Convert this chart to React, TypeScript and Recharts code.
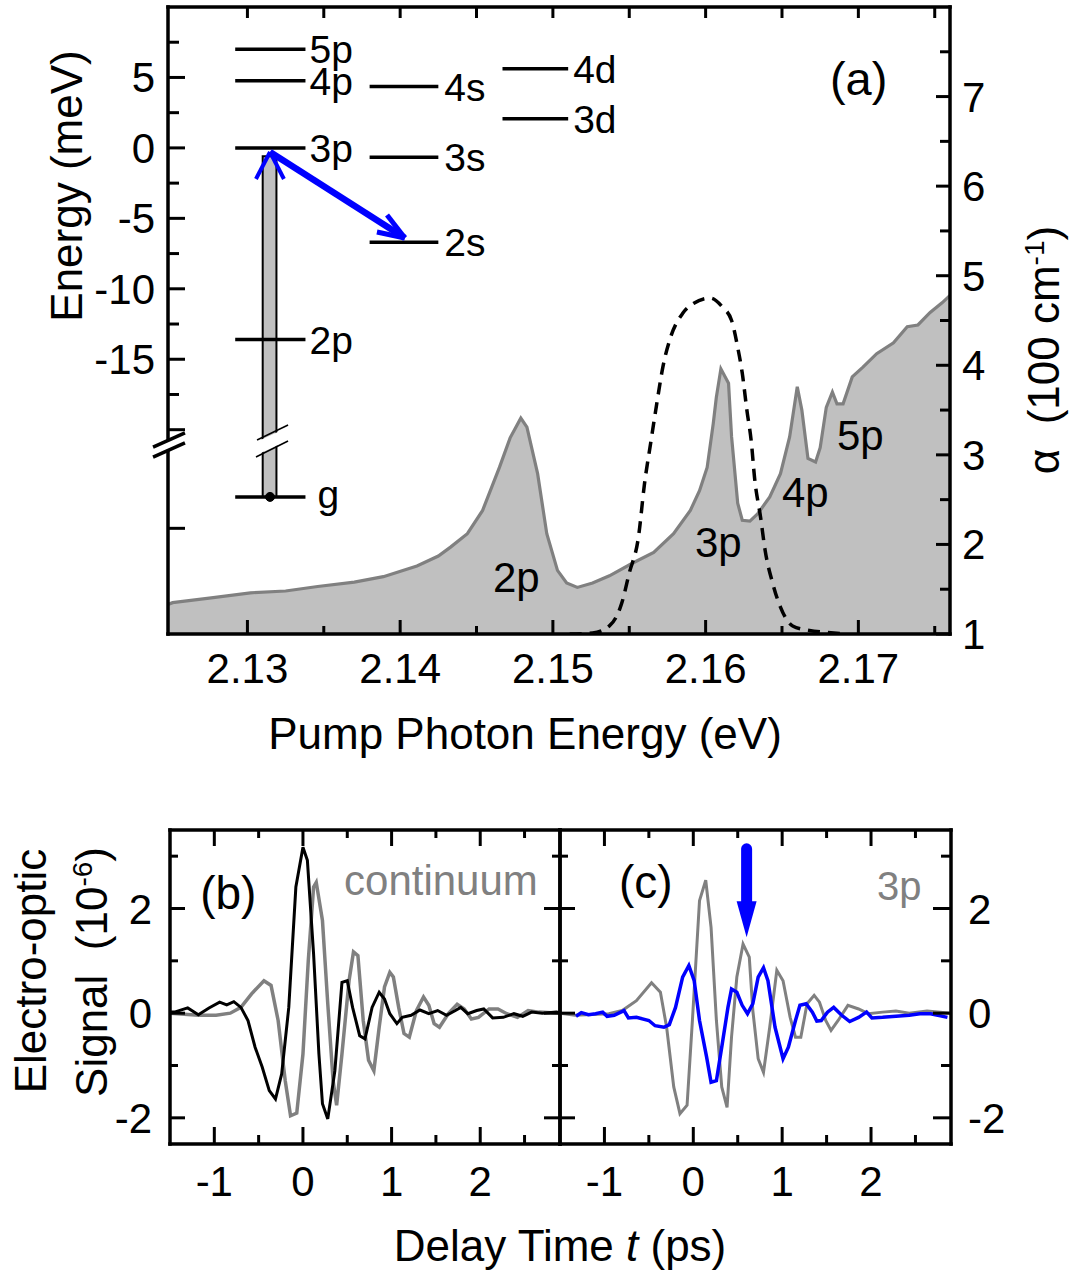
import React from 'react';
import {
  ComposedChart,
  LineChart,
  Line,
  Area,
  XAxis,
  YAxis,
  ReferenceLine,
  ReferenceDot,
  ReferenceArea,
} from 'recharts';

const FF = '"Liberation Sans", Arial, Helvetica, sans-serif';

// ---------------- Panel (a): absorption spectrum ----------------
const absEnergy = [
  2.1248, 2.1251, 2.1275, 2.1302, 2.1325, 2.1346, 2.137, 2.1389, 2.1411, 2.1425,
  2.1433, 2.1444, 2.1454, 2.1465, 2.1472, 2.1479, 2.1483, 2.149, 2.1496, 2.1503,
  2.1509, 2.1516, 2.1526, 2.1537, 2.1552, 2.1566, 2.1579, 2.159, 2.1596, 2.1601,
  2.1605, 2.1607, 2.161, 2.1615, 2.1617, 2.1621, 2.1624, 2.1629, 2.1634, 2.1642,
  2.1649, 2.1655, 2.166, 2.1663, 2.1667, 2.1672, 2.1675, 2.1679, 2.1683, 2.1686,
  2.169, 2.1696, 2.1703, 2.1712, 2.1723, 2.1732, 2.1739, 2.1747, 2.1755, 2.176,
];
const absAlpha = [
  1.33, 1.35, 1.4, 1.46, 1.48, 1.53, 1.58, 1.64, 1.76, 1.87,
  1.97, 2.12, 2.38, 2.86, 3.19, 3.41, 3.31, 2.79, 2.12, 1.71,
  1.57, 1.52, 1.57, 1.65, 1.79, 1.91, 2.12, 2.38, 2.6, 2.86,
  3.35, 3.64, 3.96, 3.8, 3.2, 2.46, 2.27, 2.26, 2.34, 2.53,
  2.79, 3.2, 3.76, 3.5, 2.96, 2.92, 3.08, 3.53, 3.7, 3.57,
  3.57, 3.87, 3.98, 4.13, 4.25, 4.43, 4.45, 4.59, 4.7, 4.78,
];

// pump laser spectrum (dashed), plotted on the alpha scale
const pumpEnergy = [
  2.1511, 2.1526, 2.1537, 2.1545, 2.155, 2.1556, 2.156, 2.1564, 2.1568, 2.1572,
  2.1577, 2.1585, 2.1592, 2.1603, 2.1611, 2.1617, 2.1621, 2.1624, 2.1627, 2.163,
  2.1632, 2.1636, 2.1639, 2.1644, 2.1649, 2.1657, 2.1668, 2.1679, 2.1691,
];
const pumpAlpha = [
  1.0, 1.01, 1.09, 1.34, 1.68, 2.08, 2.68, 3.13, 3.57, 3.98,
  4.31, 4.58, 4.69, 4.75, 4.65, 4.5, 4.2, 3.91, 3.5, 3.13,
  2.75, 2.3, 1.93, 1.56, 1.3, 1.09, 1.04, 1.02, 1.0,
];

const eVTicks = [2.13, 2.135, 2.14, 2.145, 2.15, 2.155, 2.16, 2.165, 2.17, 2.175];
const eVMajor = [2.13, 2.14, 2.15, 2.16, 2.17];
const energyTicks = [7.5, 5, 2.5, 0, -2.5, -5, -7.5, -10, -12.5, -15, -17.5, -20, -27];
const energyMajor = [5, 0, -5, -10, -15, -20, -27];
const energyLabeled = [5, 0, -5, -10, -15];
const alphaTicks = [1, 1.5, 2, 2.5, 3, 3.5, 4, 4.5, 5, 5.5, 6, 6.5, 7, 7.5];
const alphaMajor = [1, 2, 3, 4, 5, 6, 7];

// energy-level diagram (meV, broken scale below -20)
const levelNames = ['5p', '4p', '3p', '2p', 'g', '4s', '3s', '2s', '4d', '3d'];
const levelEnergy = [7.0, 4.76, 0, -13.6, -24.77, 4.35, -0.66, -6.69, 5.61, 2.06];
const levelColumn = [0, 0, 0, 0, 0, 1, 1, 1, 2, 2];
const columnFrom = [2.1292, 2.138, 2.1467];
const columnTo = [2.1338, 2.1425, 2.151];

// pump bar (g -> 3p) and relaxation arrow 3p -> 2s
const barEnergyFrom = 2.131;
const barEnergyTo = 2.1319;
const barBottom = -24.77;
const barTop = -0.6;
const barCenter = 2.13148;
const pumpHeadX = [2.13056, 2.13148, 2.13239];
const pumpHeadY = [-2.21, -0.29, -2.21];
const relaxFrom = { x: 2.13148, y: -0.29 };
const relaxTo = { x: 2.14031, y: -6.39 };
const relaxArmX = [2.13848, 2.13914];
const relaxArmY = [-5.97, -4.76];

// peak labels inside the spectrum
const peakNames = ['2p', '3p', '4p', '5p'];
const peakLabelEnergy = [2.14608, 2.1593, 2.165, 2.1686];
const peakLabelAlpha = [1.47, 1.86, 2.42, 3.05];

// ---------------- Panels (b), (c): transients ----------------
const tTicks = [-1, -0.5, 0, 0.5, 1, 1.5, 2, 2.5];
const tMajor = [-1, 0, 1, 2];
const sTicks = [-2, -1, 0, 1, 2, 3];
const sMajor = [-2, 0, 2];

const blackBTime = [
  -1.5, -1.45, -1.3, -1.18, -1.06, -0.94, -0.86, -0.78, -0.7, -0.62,
  -0.54, -0.46, -0.38, -0.31, -0.24, -0.16, -0.08, 0.0, 0.05, 0.12,
  0.18, 0.22, 0.28, 0.36, 0.44, 0.5, 0.56, 0.64, 0.7, 0.78,
  0.86, 0.92, 0.98, 1.06, 1.12, 1.22, 1.32, 1.42, 1.52, 1.62,
  1.72, 1.78, 1.86, 1.96, 2.04, 2.14, 2.26, 2.38, 2.48, 2.58,
  2.7, 2.86, 2.9,
];
const blackBSignal = [
  0.02, 0.02, 0.1, -0.03, 0.1, 0.21, 0.16, 0.22, 0.11, -0.14,
  -0.65, -1.03, -1.48, -1.64, -1.16, 0.11, 2.41, 3.17, 2.92, 1.13,
  -0.78, -1.73, -2.02, -1.1, 0.59, 0.62, 0.11, -0.43, -0.49, 0.11,
  0.4, 0.27, -0.01, -0.2, -0.08, -0.04, 0.06, -0.01, 0.05, -0.04,
  0.05, 0.11, -0.01, 0.05, 0.08, -0.09, -0.08, -0.01, -0.06, 0.02,
  0.0, 0.02, 0.01,
];

const contBTime = [
  -1.5, -1.18, -0.98, -0.82, -0.7, -0.58, -0.44, -0.36, -0.28, -0.2,
  -0.14, -0.07, 0.0, 0.06, 0.12, 0.15, 0.22, 0.28, 0.34, 0.38,
  0.44, 0.52, 0.57, 0.62, 0.68, 0.74, 0.8, 0.86, 0.92, 0.98,
  1.02, 1.08, 1.14, 1.2, 1.28, 1.36, 1.42, 1.48, 1.54, 1.64,
  1.74, 1.82, 1.9, 1.98, 2.1, 2.2, 2.3, 2.42, 2.54, 2.66, 2.9,
];
const contBSignal = [
  0.0, -0.04, -0.04, 0.0, 0.11, 0.37, 0.62, 0.53, -0.14, -1.29,
  -1.96, -1.91, -0.78, 1.0, 2.41, 2.5, 1.77, 0.18, -1.29, -1.76,
  -0.78, 0.62, 1.17, 1.1, -0.14, -0.9, -1.1, -0.27, 0.5, 0.78,
  0.69, 0.11, -0.39, -0.46, 0.05, 0.31, 0.15, -0.2, -0.27, -0.01,
  0.17, 0.08, -0.11, -0.08, 0.08, 0.08, -0.01, -0.08, 0.05, 0.02, 0.0,
];

const grayCTime = [
  -1.5, -1.33, -0.95, -0.8, -0.64, -0.47, -0.37, -0.3, -0.22, -0.15,
  -0.07, -0.01, 0.07, 0.14, 0.2, 0.26, 0.32, 0.38, 0.43, 0.49,
  0.56, 0.63, 0.67, 0.73, 0.79, 0.86, 0.94, 1.01, 1.09, 1.15,
  1.21, 1.28, 1.36, 1.42, 1.49, 1.55, 1.63, 1.74, 1.86, 1.97,
  2.13, 2.28, 2.43, 2.63, 2.9,
];
const grayCSignal = [
  0.0, -0.04, -0.01, 0.05, 0.24, 0.58, 0.4, -0.27, -1.41, -1.92,
  -1.76, -0.14, 2.15, 2.54, 1.64, -0.14, -1.41, -1.8, -0.46, 0.69,
  1.32, 1.07, 0.05, -0.87, -1.13, -0.27, 0.82, 0.62, -0.08, -0.46,
  -0.46, 0.18, 0.34, 0.21, -0.14, -0.33, -0.14, 0.15, 0.08, -0.01,
  0.02, 0.04, 0.0, 0.04, 0.0,
];

const blueCTime = [
  -1.32, -1.26, -1.18, -1.1, -1.02, -0.97, -0.89, -0.78, -0.73, -0.64,
  -0.5, -0.43, -0.33, -0.27, -0.2, -0.12, -0.05, 0.01, 0.07, 0.15,
  0.2, 0.26, 0.32, 0.39, 0.43, 0.49, 0.55, 0.61, 0.67, 0.73,
  0.79, 0.84, 0.92, 1.01, 1.07, 1.15, 1.2, 1.27, 1.34, 1.39,
  1.44, 1.51, 1.58, 1.67, 1.76, 1.86, 1.95, 2.01, 2.13, 2.28,
  2.43, 2.55, 2.67, 2.86,
];
const blueCSignal = [
  -0.06, 0.01, -0.03, -0.01, 0.02, -0.06, -0.04, 0.05, -0.09, -0.08,
  -0.14, -0.24, -0.27, -0.22, 0.11, 0.69, 0.91, 0.62, -0.14, -0.84,
  -1.32, -1.29, -0.65, 0.11, 0.46, 0.4, 0.15, -0.01, 0.18, 0.69,
  0.87, 0.62, -0.27, -0.87, -0.65, -0.14, 0.15, 0.18, 0.02, -0.15,
  -0.14, 0.02, 0.11, -0.04, -0.16, -0.08, 0.02, -0.09, -0.08, -0.06,
  -0.04, -0.01, -0.01, -0.08,
];

const arrowCTime = 0.6;
const arrowCTop = 3.14;
const arrowCTip = 1.45;

const zip = (xs: number[], ys: number[]) => xs.map((x, i) => ({ x, y: ys[i] }));
const absData = zip(absEnergy, absAlpha);
const pumpData = zip(pumpEnergy, pumpAlpha);
const blackB = zip(blackBTime, blackBSignal);
const contB = zip(contBTime, contBSignal);
const grayC = zip(grayCTime, grayCSignal);
const blueC = zip(blueCTime, blueCSignal);

// ---------------- helpers ----------------
const AX = { stroke: '#000', strokeWidth: 3.5, strokeLinecap: 'square' as const };

function AxisTick(p: any) {
  const {
    x, y, payload, side, majors, labels, majorLen, minorLen, labelGap, fmt,
    plotH, topMajorLen, topMinorLen,
  } = p;
  const v = Number(payload && payload.value);
  const has = (arr?: number[]) => !!arr && arr.some((m) => Math.abs(m - v) < 1e-6);
  const major = has(majors);
  const len = major ? majorLen : minorLen;
  const text = fmt ? fmt(v) : String(v);
  const fs = 42;
  const tp = { fontSize: fs, fontFamily: FF, fill: '#000' };
  let line: React.ReactNode = null;
  let mirror: React.ReactNode = null;
  let label: React.ReactNode = null;
  if (side === 'bottom') {
    line = <line x1={x} y1={y} x2={x} y2={y - len} stroke="#000" strokeWidth={3} />;
    if (plotH) {
      const tl = major ? topMajorLen : topMinorLen;
      mirror = <line x1={x} y1={y - plotH} x2={x} y2={y - plotH + tl} stroke="#000" strokeWidth={3} />;
    }
    if (has(labels))
      label = (
        <text x={x} y={y + labelGap} textAnchor="middle" {...tp}>
          {text}
        </text>
      );
  } else if (side === 'left') {
    line = <line x1={x} y1={y} x2={x + len} y2={y} stroke="#000" strokeWidth={3} />;
    if (has(labels))
      label = (
        <text x={x - labelGap} y={y + 15} textAnchor="end" {...tp}>
          {text}
        </text>
      );
  } else {
    line = <line x1={x} y1={y} x2={x - len} y2={y} stroke="#000" strokeWidth={3} />;
    if (has(labels))
      label = (
        <text x={x + labelGap} y={y + 15} textAnchor="start" {...tp}>
          {text}
        </text>
      );
  }
  return (
    <g>
      {line}
      {mirror}
      {label}
    </g>
  );
}

const textAt =
  (s: string, o: { dx?: number; dy?: number; size?: number; color?: string; anchor?: string }) =>
  (p: any) => {
    const vb = (p && p.viewBox) || {};
    return (
      <text
        x={(vb.x ?? 0) + (o.dx ?? 0)}
        y={(vb.y ?? 0) + (o.dy ?? 0)}
        fontSize={o.size ?? 42}
        fontFamily={FF}
        fill={o.color ?? '#000'}
        textAnchor={(o.anchor ?? 'start') as any}
      >
        {s}
      </text>
    );
  };

const pumpTitle = () => (
  <text x={525} y={749} textAnchor="middle" fontSize={44} fontFamily={FF} fill="#000">
    Pump Photon Energy (eV)
  </text>
);
const energyTitle = () => (
  <text
    x={82}
    y={186}
    transform="rotate(-90 82 186)"
    textAnchor="middle"
    fontSize={44}
    fontFamily={FF}
    fill="#000"
  >
    Energy (meV)
  </text>
);
const alphaTitle = () => (
  <text
    x={1059}
    y={350}
    transform="rotate(-90 1059 350)"
    textAnchor="middle"
    fontSize={44}
    fontFamily={FF}
    fill="#000"
    style={{ whiteSpace: 'pre' }}
  >
    {'\u03b1  (100 cm'}
    <tspan dy={-15} fontSize={28}>
      -1
    </tspan>
    <tspan dy={15}>)</tspan>
  </text>
);
const eoTitle = () => (
  <g>
    <text
      x={46}
      y={191}
      transform="rotate(-90 46 191)"
      textAnchor="middle"
      fontSize={44}
      fontFamily={FF}
      fill="#000"
    >
      Electro-optic
    </text>
    <text
      x={107}
      y={192}
      transform="rotate(-90 107 192)"
      textAnchor="middle"
      fontSize={44}
      fontFamily={FF}
      fill="#000"
      style={{ whiteSpace: 'pre' }}
    >
      {'Signal  (10'}
      <tspan dy={-15} fontSize={28}>
        -6
      </tspan>
      <tspan dy={15}>)</tspan>
    </text>
  </g>
);
const delayTitle = () => (
  <text x={560} y={481} textAnchor="middle" fontSize={44} fontFamily={FF} fill="#000">
    Delay Time <tspan fontStyle="italic">t</tspan> (ps)
  </text>
);

const common = {
  type: 'number' as const,
  interval: 0 as const,
  tickLine: false,
  tickSize: 0,
  tickMargin: 0,
  axisLine: AX,
  allowDataOverflow: true,
};

function PanelA() {
  return (
    <ComposedChart width={1078} height={780} margin={{ top: 6, right: 0, bottom: 0, left: 0 }}>
      <XAxis
        {...common}
        dataKey="x"
        domain={[2.1248, 2.176]}
        ticks={eVTicks}
        height={146}
        tick={
          <AxisTick
            side="bottom"
            majors={eVMajor}
            labels={eVMajor}
            majorLen={14}
            minorLen={8}
            labelGap={49}
            plotH={627}
            topMajorLen={11}
            topMinorLen={11}
            fmt={(v: number) => v.toFixed(2)}
          />
        }
        label={pumpTitle}
      />
      <XAxis
        {...common}
        xAxisId="top"
        orientation="top"
        dataKey="x"
        domain={[2.1248, 2.176]}
        ticks={eVTicks}
        height={1}
        tick={false}
      />
      <YAxis
        {...common}
        yAxisId="E"
        orientation="left"
        domain={[-34.5, 10]}
        ticks={energyTicks}
        width={168}
        tick={<AxisTick side="left" majors={energyMajor} labels={energyLabeled} majorLen={17} minorLen={11} labelGap={13} />}
        label={energyTitle}
      />
      <YAxis
        {...common}
        yAxisId="alpha"
        orientation="right"
        domain={[1, 8]}
        ticks={alphaTicks}
        width={128}
        tick={<AxisTick side="right" majors={alphaMajor} labels={alphaMajor} majorLen={14} minorLen={10} labelGap={12} />}
        label={alphaTitle}
      />

      <Area
        data={absData}
        dataKey="y"
        yAxisId="alpha"
        type="linear"
        stroke="#808080"
        strokeWidth={3.2}
        fill="#c0c0c0"
        fillOpacity={1}
        baseValue={1}
        dot={false}
        activeDot={false}
        isAnimationActive={false}
      />
      <Line
        data={pumpData}
        dataKey="y"
        yAxisId="alpha"
        type="monotone"
        stroke="#000"
        strokeWidth={3.5}
        strokeDasharray="12 8"
        dot={false}
        activeDot={false}
        isAnimationActive={false}
      />

      {/* pump bar */}
      <ReferenceArea
        yAxisId="E"
        x1={barEnergyFrom}
        x2={barEnergyTo}
        y1={barBottom}
        y2={barTop}
        fill="#c0c0c0"
        fillOpacity={1}
        stroke="#000"
        strokeWidth={2}
      />
      <ReferenceLine yAxisId="E" segment={[{ x: 2.1305, y: -21.37 }, { x: 2.13279, y: -20.23 }]} stroke="#fff" strokeWidth={12} />
      <ReferenceLine yAxisId="E" segment={[{ x: 2.13063, y: -20.73 }, { x: 2.13266, y: -19.67 }]} stroke="#000" strokeWidth={1.5} />
      <ReferenceLine yAxisId="E" segment={[{ x: 2.13056, y: -21.94 }, { x: 2.13266, y: -20.8 }]} stroke="#000" strokeWidth={1.5} />

      {/* levels */}
      {levelNames.map((n, i) => (
        <ReferenceLine
          key={'lv' + n}
          yAxisId="E"
          segment={[
            { x: columnFrom[levelColumn[i]], y: levelEnergy[i] },
            { x: columnTo[levelColumn[i]], y: levelEnergy[i] },
          ]}
          stroke="#000"
          strokeWidth={3.5}
        />
      ))}
      {levelNames.map((n, i) => (
        <ReferenceDot
          key={'lb' + n}
          yAxisId="E"
          x={columnTo[levelColumn[i]]}
          y={levelEnergy[i]}
          r={0}
          fill="none"
          stroke="none"
          label={textAt(n, {
            dx: n === 'g' ? 12 : [4, 6, 5][levelColumn[i]],
            dy: n === 'g' ? 11 : 14,
            size: 39,
          })}
        />
      ))}
      <ReferenceDot yAxisId="E" x={barCenter} y={barBottom} r={4.5} fill="#000" stroke="#000" />

      {/* blue arrows */}
      <ReferenceLine
        yAxisId="E"
        segment={[{ x: pumpHeadX[0], y: pumpHeadY[0] }, { x: pumpHeadX[1], y: pumpHeadY[1] }]}
        stroke="#0000ff"
        strokeWidth={4}
      />
      <ReferenceLine
        yAxisId="E"
        segment={[{ x: pumpHeadX[1], y: pumpHeadY[1] }, { x: pumpHeadX[2], y: pumpHeadY[2] }]}
        stroke="#0000ff"
        strokeWidth={4}
      />
      <ReferenceLine yAxisId="E" segment={[relaxFrom, relaxTo]} stroke="#0000ff" strokeWidth={6.5} />
      <ReferenceLine
        yAxisId="E"
        segment={[{ x: relaxArmX[0], y: relaxArmY[0] }, relaxTo]}
        stroke="#0000ff"
        strokeWidth={5}
      />
      <ReferenceLine
        yAxisId="E"
        segment={[{ x: relaxArmX[1], y: relaxArmY[1] }, relaxTo]}
        stroke="#0000ff"
        strokeWidth={5}
      />

      {/* axis break */}
      <ReferenceLine
        yAxisId="E"
        ifOverflow="visible"
        segment={[{ x: 2.12362, y: -21.65 }, { x: 2.12611, y: -20.52 }]}
        stroke="#fff"
        strokeWidth={7}
        zIndex={900}
      />
      <ReferenceLine
        yAxisId="E"
        ifOverflow="visible"
        segment={[{ x: 2.12382, y: -21.23 }, { x: 2.12591, y: -20.23 }]}
        stroke="#000"
        strokeWidth={3.5}
        zIndex={901}
      />
      <ReferenceLine
        yAxisId="E"
        ifOverflow="visible"
        segment={[{ x: 2.12382, y: -21.94 }, { x: 2.12591, y: -20.94 }]}
        stroke="#000"
        strokeWidth={3.5}
        zIndex={901}
      />

      {peakNames.map((n, i) => (
        <ReferenceDot
          key={'pk' + n}
          yAxisId="alpha"
          x={peakLabelEnergy[i]}
          y={peakLabelAlpha[i]}
          r={0}
          fill="none"
          stroke="none"
          label={textAt(n, { size: 42 })}
        />
      ))}
      <ReferenceDot
        yAxisId="alpha"
        x={2.16814}
        y={7.02}
        r={0}
        fill="none"
        stroke="none"
        label={textAt('(a)', { size: 47 })}
      />
    </ComposedChart>
  );
}

const topTimeAxis = (
  <XAxis
    {...common}
    xAxisId="top"
    orientation="top"
    dataKey="x"
    domain={[-1.5, 2.9]}
    ticks={tTicks}
    height={1}
    tick={false}
  />
);

const bottomTimeTick = (withLabels: boolean) => (
  <AxisTick
    side="bottom"
    majors={tMajor}
    labels={withLabels ? tMajor : []}
    majorLen={17}
    minorLen={9}
    labelGap={52}
    plotH={314}
    topMajorLen={16}
    topMinorLen={8}
  />
);

function PanelB() {
  return (
    <LineChart width={1078} height={497} margin={{ top: 49, right: 0, bottom: 0, left: 0 }}>
      <XAxis
        {...common}
        dataKey="x"
        domain={[-1.5, 2.9]}
        ticks={tTicks}
        height={133}
        tick={bottomTimeTick(true)}
        label={delayTitle}
      />
      {topTimeAxis}
      <YAxis
        {...common}
        domain={[-2.5, 3.5]}
        ticks={sTicks}
        width={170}
        tick={<AxisTick side="left" majors={sMajor} labels={sMajor} majorLen={15} minorLen={8} labelGap={18} />}
        label={eoTitle}
      />
      <YAxis
        {...common}
        yAxisId="r"
        orientation="right"
        domain={[-2.5, 3.5]}
        ticks={sTicks}
        width={518}
        tick={<AxisTick side="right" majors={sMajor} majorLen={16} minorLen={8} />}
      />
      <Line data={contB} dataKey="y" type="linear" stroke="#808080" strokeWidth={3.5} dot={false} activeDot={false} isAnimationActive={false} />
      <Line data={blackB} dataKey="y" type="linear" stroke="#000" strokeWidth={3} dot={false} activeDot={false} isAnimationActive={false} />
      <ReferenceDot x={-1.16} y={1.99} r={0} fill="none" stroke="none" label={textAt('(b)', { size: 46 })} />
      <ReferenceDot
        x={2.65}
        y={2.26}
        r={0}
        fill="none"
        stroke="none"
        label={textAt('continuum', { size: 42, color: '#808080', anchor: 'end' })}
      />
    </LineChart>
  );
}

function PanelC() {
  return (
    <LineChart width={1078} height={497} margin={{ top: 49, right: 0, bottom: 0, left: 0 }}>
      <XAxis
        {...common}
        dataKey="x"
        domain={[-1.5, 2.9]}
        ticks={tTicks}
        height={133}
        tick={bottomTimeTick(true)}
      />
      {topTimeAxis}
      <YAxis
        {...common}
        domain={[-2.5, 3.5]}
        ticks={sTicks}
        width={560}
        tick={<AxisTick side="left" majors={sMajor} majorLen={15} minorLen={8} />}
      />
      <YAxis
        {...common}
        yAxisId="r"
        orientation="right"
        domain={[-2.5, 3.5]}
        ticks={sTicks}
        width={127}
        tick={<AxisTick side="right" majors={sMajor} labels={sMajor} majorLen={18} minorLen={10} labelGap={17} />}
      />
      <Line data={grayC} dataKey="y" type="linear" stroke="#808080" strokeWidth={3} dot={false} activeDot={false} isAnimationActive={false} />
      <Line data={blueC} dataKey="y" type="linear" stroke="#0000ff" strokeWidth={3.5} dot={false} activeDot={false} isAnimationActive={false} />
      <ReferenceLine
        segment={[{ x: arrowCTime, y: arrowCTop }, { x: arrowCTime, y: 2.0 }]}
        stroke="#0000ff"
        strokeWidth={11}
        strokeLinecap="round"
      />
      <ReferenceDot
        x={arrowCTime}
        y={arrowCTip}
        r={1}
        shape={(p: any) => (
          <polygon
            points={`${p.cx},${p.cy} ${p.cx - 10},${p.cy - 36} ${p.cx + 10},${p.cy - 36}`}
            fill="#0000ff"
          />
        )}
      />
      <ReferenceDot x={-0.836} y={2.2} r={0} fill="none" stroke="none" label={textAt('(c)', { size: 46 })} />
      <ReferenceDot x={2.067} y={2.16} r={0} fill="none" stroke="none" label={textAt('3p', { size: 40, color: '#808080' })} />
    </LineChart>
  );
}

export default function App() {
  return (
    <div style={{ position: 'absolute', left: 0, top: 0, width: 1078, height: 1277, background: '#fff' }}>
      <div style={{ position: 'absolute', left: 0, top: 0 }}>
        <PanelA />
      </div>
      <div style={{ position: 'absolute', left: 0, top: 780 }}>
        <PanelB />
      </div>
      <div style={{ position: 'absolute', left: 0, top: 780 }}>
        <PanelC />
      </div>
    </div>
  );
}
